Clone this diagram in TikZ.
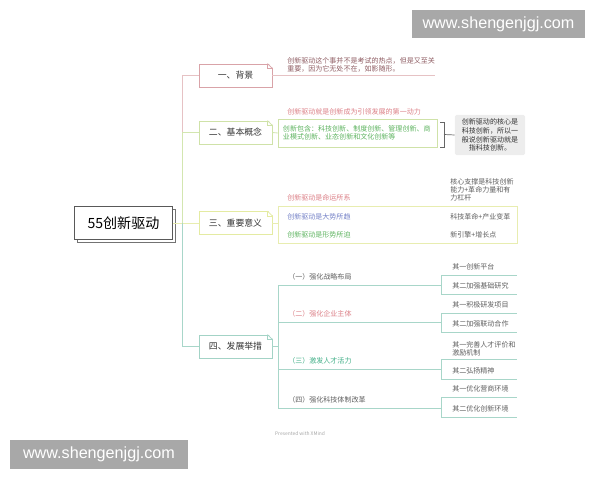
\documentclass[tikz,border=0pt]{standalone}
\usepackage{fontspec}
\setmainfont{Noto Sans CJK SC}
\newfontfamily\wmfont{Liberation Sans}
\usepackage{xcolor}
\usepackage{tikz}
\usetikzlibrary{shadows}
\usetikzlibrary{positioning}
\usetikzlibrary{calc}

\definecolor{bdred}{HTML}{D9A3A8}
\definecolor{bdgreen}{HTML}{CFE2A8}
\definecolor{bdyellow}{HTML}{E4EBA2}
\definecolor{bdteal}{HTML}{A3D3C6}
\definecolor{lnred}{HTML}{E6C2C4}
\definecolor{lngreen}{HTML}{D3E6B0}
\definecolor{lnyellow}{HTML}{E8EDB0}
\definecolor{lnteal}{HTML}{A8D6C9}
\definecolor{txbrown}{HTML}{8E5C62}
\definecolor{txred}{HTML}{DB7F86}
\definecolor{txgreen}{HTML}{5DB35F}
\definecolor{txblue}{HTML}{7380C6}
\definecolor{txteal}{HTML}{3FAE86}
\definecolor{txgray}{HTML}{5E5E5E}
\definecolor{sumgray}{HTML}{EDEDED}
\definecolor{wmgray}{HTML}{A8A8A8}

\tikzstyle{rootvertex}=[rectangle,draw=black!65,fill=white,minimum width=2.45cm,minimum height=0.82cm,inner sep=0pt,font=\fontsize{10}{12}\selectfont,copy shadow={shadow xshift=0.07cm,shadow yshift=-0.07cm,draw=black!55,fill=white,thin}]
\tikzstyle{mainvertex}=[rectangle,fill=white,line width=0.6pt,minimum width=1.825cm,minimum height=0.575cm,inner sep=0pt,font=\fontsize{6.3}{7.5}\selectfont,text=black!80]
\tikzstyle{leaf}=[inner sep=0pt,font=\fontsize{5}{5.8}\selectfont,align=left]
\tikzstyle{branchline}=[draw,line width=0.6pt]
\tikzstyle{greenbox}=[rectangle,draw=bdgreen,line width=0.6pt,text=txgreen,inner xsep=0.12cm,inner ysep=0pt,text width=3.75cm,minimum height=0.7cm,align=left,font=\fontsize{5}{5.8}\selectfont]
\tikzstyle{sumbox}=[rectangle,fill=sumgray,rounded corners=1pt,minimum width=1.75cm,minimum height=1cm,inner sep=0pt,align=center,text=black!80,font=\fontsize{5}{6.2}\selectfont]
\tikzstyle{watermark}=[rectangle,fill=wmgray,text=white,inner sep=0pt,font=\wmfont\fontsize{11.5}{13}\selectfont]

\begin{document}
\begin{tikzpicture}[x=0.025cm,y=-0.025cm]
\useasboundingbox (0,0) rectangle (600,480);

 %root
 \node[rootvertex] (root) at (123.5,223) {55创新驱动};
 \coordinate (hub) at (182,223);

 \foreach \y/\name/\label/\col in {75.5/b1/一、背景/bdred, 132.5/b2/二、基本概念/bdgreen, 223/b3/三、重要意义/bdyellow, 346.5/b4/四、发展举措/bdteal}
          \node[mainvertex,draw=\col] (\name) at (235.5,\y) {\label};

 \draw[branchline,lnyellow] (root.east) -- (hub);
 \foreach \dest/\col in {b1/lnred, b2/lngreen, b3/lnyellow, b4/lnteal}
         \path[branchline,draw=\col] (hub) |- (\dest.west);

 % folded corners
 \foreach \name/\col in {b1/bdred, b2/bdgreen, b3/bdyellow, b4/bdteal}
 {
   \fill[white] ($(\name.north east)+(-5,-1)$) -- ($(\name.north east)+(1,-1)$) -- ($(\name.north east)+(1,5)$) -- cycle;
   \draw[\col,line width=0.5pt] ($(\name.north east)+(-5,0)$) -- ($(\name.north east)+(0,5)$);
   \draw[\col,line width=0.4pt] ($(\name.north east)+(-5,0)$) -- ($(\name.north east)+(-5,5)$) -- ($(\name.north east)+(0,5)$);
 }

 %B1
 \node[leaf,text=txbrown,anchor=south west] (t1) at (287,73) {创新驱动这个事并不是考试的热点，但是又至关\\重要，因为它无处不在，如影随形。};
 \coordinate (t1e) at (435,75.5);
 \draw[branchline,lnred] (b1.east) -- (t1e);

 %B2
 \node[leaf,text=txred,anchor=west] (c21) at (287,112) {创新驱动就是创新成为引领发展的第一动力};
 \node[greenbox] (c22) at (358,133) {创新包含：科技创新、制度创新、管理创新、商\\业模式创新、业态创新和文化创新等};
 \draw[branchline,lngreen] (b2.east) -- (c22.west);

 \coordinate (bt) at (440,122);
 \coordinate (bm) at (444,134.5);
 \node[sumbox] (sum) at (490,135) {创新驱动的核心是\\科技创新，所以一\\般说创新驱动就是\\指科技创新。};
 \draw[black!60,line width=0.5pt] (bt) -- ++(4,0) -- ++(0,25) -- ++(-4,0);
 \draw[black!60,line width=0.5pt] (bm) -- (sum.west);

 %B3
 \draw[lnyellow,line width=0.6pt] (278,206) rectangle (517,243);
 \coordinate (f3) at (278,223);
 \draw[branchline,lnyellow] (b3.east) -- (f3);

 \foreach \y/\name/\label/\col in {198/m1/创新驱动是命运所系/txred, 217/m2/创新驱动是大势所趋/txblue, 235/m3/创新驱动是形势所迫/txgreen}
          \node[leaf,text=\col,anchor=west] (\name) at (287,\y) {\label};

 \node[leaf,text=txgray,anchor=south west] (n1) at (450,201.5) {核心支撑是科技创新\\能力+革命力量和有\\力杠杆};
 \foreach \y/\name/\label in {217/n2/科技革命+产业变革, 235/n3/新引擎+增长点}
          \node[leaf,text=txgray,anchor=west] (\name) at (450,\y) {\label};

 %B4
 \coordinate (v4) at (278,346.5);
 \coordinate (v4t) at (278,285);
 \coordinate (v4b) at (278,408);
 \draw[branchline,lnteal] (b4.east) -- (v4);
 \draw[branchline,lnteal] (v4t) -- (v4b);

 \foreach \y/\name/\label/\col in {285/p1/（一）强化战略布局/txgray, 322/p2/（二）强化企业主体/txred, 369/p3/（三）激发人才活力/txteal, 408/p4/（四）强化科技体制改革/txgray}
 {
   \node[leaf,text=\col,anchor=base west] (\name) at (288,\y-5.5) {\label};
   \coordinate (\name s) at (278,\y);
   \coordinate (\name e) at (441,\y);
   \draw[branchline,lnteal] (\name s) -- (\name e);
 }

 \foreach \y/\z/\name in {275/294/q1, 313/332/q2, 359/379/q3, 397/417/q4}
 {
   \coordinate (\name t) at (441,\y);
   \coordinate (\name b) at (441,\z);
   \coordinate (\name te) at (517,\y);
   \coordinate (\name be) at (517,\z);
   \draw[branchline,lnteal] (\name t) -- (\name b);
   \draw[branchline,lnteal] (\name t) -- (\name te);
   \draw[branchline,lnteal] (\name b) -- (\name be);
 }

 \foreach \y/\name/\label in {275/r11/其一创新平台, 294/r12/其二加强基础研究, 313/r21/其一积极研发项目, 332/r22/其二加强联动合作, 379/r32/其二弘扬精神, 397/r41/其一优化营商环境, 417/r42/其二优化创新环境}
          \node[leaf,text=txgray,anchor=base west] (\name) at (452,\y-5.5) {\label};
 \node[leaf,text=txgray,anchor=south west] (r31) at (452,356.5) {其一完善人才评价和\\激励机制};

 % footer and marks
 \node[inner sep=0pt,text=black!35,font=\fontsize{3.5}{4}\selectfont] (xm) at (300,434) {Presented with XMind};
 \node[watermark,minimum width=4.325cm,minimum height=0.7cm] (wm1) at (498.5,24) {www.shengenjgj.com};
 \node[watermark,minimum width=4.45cm,minimum height=0.725cm] (wm2) at (99,454.5) {www.shengenjgj.com};

\end{tikzpicture}
\end{document}
